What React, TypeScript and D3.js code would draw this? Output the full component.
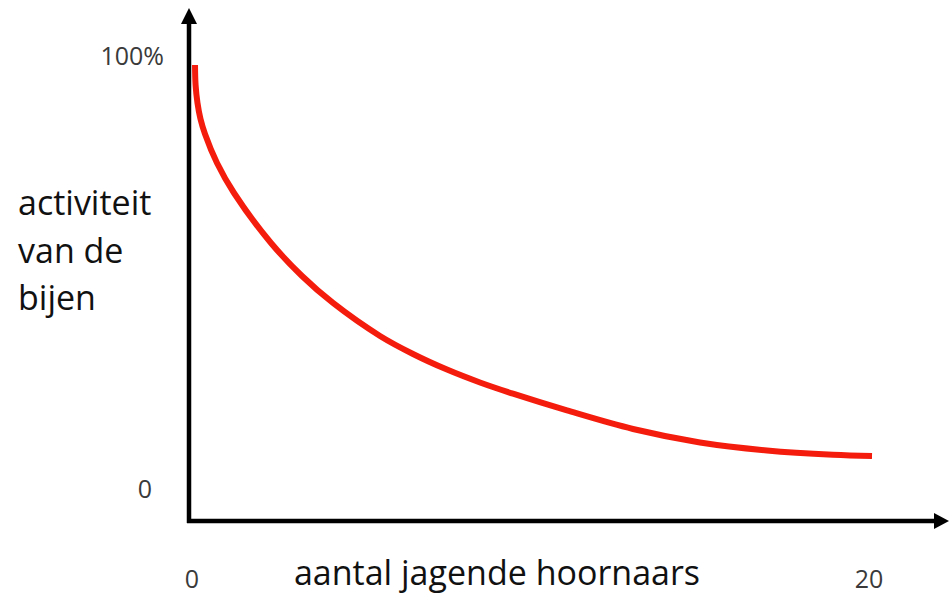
import React from "react";
import * as d3 from "d3";

// number of chasing hornets vs. bee activity (%)
const hornets = [
  0.089, 0.106, 0.162, 0.251, 0.384, 0.739, 1.241, 2.334, 3.25, 4.165, 5.554,
  6.529, 7.533, 8.508, 9.483, 11.078, 13.028, 15.007, 16.987, 18.936, 20.089,
];
const activity = [
  98.15, 93.53, 89.38, 85.68, 82.22, 75.52, 68.59, 57.04, 49.42, 43.19, 35.57,
  31.41, 27.81, 24.83, 22.24, 18.38, 14.09, 10.99, 9.14, 8.15, 7.87,
];

const xTicks = [0, 20];
const yTicks = [0, 100];
const yTickLabels = ["0", "100%"];
const yTitle = ["activiteit", "van de", "bijen"];
const xTitle = "aantal jagende hoornaars";

const width = 949;
const height = 594;

export default function App() {
  const x = d3.scaleLinear().domain([0, 20]).range([192, 869]);
  const y = d3.scaleLinear().domain([0, 100]).range([490, 57]);

  const points = hornets.map((h, i) => [h, activity[i]] as [number, number]);
  const line = d3
    .line<[number, number]>()
    .x(d => x(d[0]))
    .y(d => y(d[1]))
    .curve(d3.curveCatmullRom.alpha(0.5));

  const axisX = 189;
  const axisY = 521;

  return (
    <svg
      width={width}
      height={height}
      style={{ position: "absolute", left: 0, top: 0, background: "#fff" }}
      fontFamily="'Open Sans', sans-serif"
    >
      {/* axes */}
      <line x1={axisX} y1={18} x2={axisX} y2={axisY + 2} stroke="#000" strokeWidth={4.5} />
      <line x1={axisX - 2} y1={axisY} x2={938} y2={axisY} stroke="#000" strokeWidth={4.5} />
      <path d={`M${axisX},8 L${axisX - 8},24 L${axisX + 8},24 Z`} fill="#000" />
      <path d={`M949,${axisY} L934,${axisY - 8} L934,${axisY + 8} Z`} fill="#000" />

      {/* curve */}
      <path d={line(points) || ""} fill="none" stroke="#f41d0d" strokeWidth={6} />

      {/* y ticks */}
      {yTicks.map((t, i) => (
        <text
          key={"y" + t}
          x={i === 0 ? 145 : 164}
          y={y(t) + 8}
          textAnchor={i === 0 ? "middle" : "end"}
          fontSize={25}
          fill="#3a3a3a"
        >
          {yTickLabels[i]}
        </text>
      ))}

      {/* x ticks */}
      {xTicks.map(t => (
        <text key={"x" + t} x={x(t)} y={588} textAnchor="middle" fontSize={25} fill="#3a3a3a">
          {t}
        </text>
      ))}

      {/* titles */}
      {yTitle.map((s, i) => (
        <text key={s} x={18} y={215 + i * 47.5} fontSize={34} fill="#111">
          {s}
        </text>
      ))}
      <text x={497} y={585} textAnchor="middle" fontSize={34} fill="#111">
        {xTitle}
      </text>
    </svg>
  );
}
